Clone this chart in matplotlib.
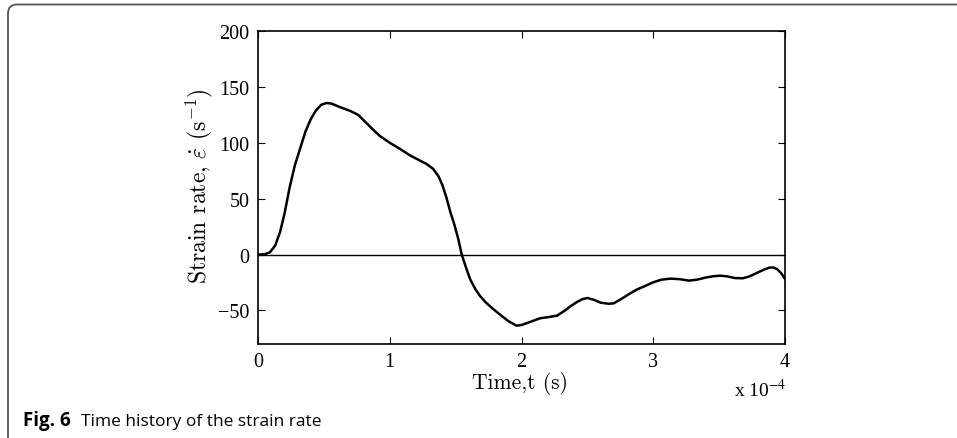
import matplotlib
matplotlib.use("Agg")
import matplotlib.pyplot as plt
from matplotlib.patches import FancyBboxPatch
from matplotlib.transforms import IdentityTransform

plt.rcParams['font.family'] = ['Liberation Serif', 'DejaVu Serif']
plt.rcParams['mathtext.fontset'] = 'stix'

# time in units of 1e-4 s, strain rate in 1/s
time_e4 = [0, 0.05, 0.09, 0.13, 0.167, 0.20, 0.24, 0.28, 0.32, 0.36, 0.40, 0.44,
           0.48, 0.52, 0.56, 0.62, 0.70, 0.76, 0.82, 0.88, 0.926, 1.0, 1.078, 1.15,
           1.23, 1.28, 1.33, 1.37, 1.40, 1.43, 1.46, 1.49, 1.52, 1.546, 1.58, 1.61,
           1.65, 1.685, 1.73, 1.785, 1.84, 1.90, 1.962, 2.0, 2.06, 2.14, 2.2, 2.27,
           2.33, 2.38, 2.42, 2.46, 2.5, 2.55, 2.60, 2.66, 2.70, 2.76, 2.82, 2.88,
           2.94, 3.0, 3.06, 3.13, 3.2, 3.27, 3.33, 3.40, 3.46, 3.51, 3.56, 3.62,
           3.68, 3.73, 3.785, 3.84, 3.88, 3.91, 3.94, 3.97, 4.0]
strain_rate = [0, 0.3, 2, 8, 20, 36, 60, 80, 95, 110, 121, 129,
               134, 135.6, 135, 132, 128.5, 125, 118, 111, 106, 100, 94.5, 89,
               84, 81, 76.6, 70, 62, 51, 38, 27, 14, 0, -12, -22,
               -31, -37, -43, -48.7, -54, -59.5, -63.6, -63, -60.5, -57, -56, -54.6,
               -50, -45.5, -42.5, -40, -38.8, -40.5, -43, -44, -43.6, -39.5, -35, -31,
               -28, -24.8, -22.5, -21.5, -22, -23.3, -22.5, -20.5, -19.3, -18.9, -19.5, -21,
               -21.2, -19.5, -16.5, -13.5, -11.7, -11.5, -13, -16.5, -21.8]

xticks = [0, 1, 2, 3, 4]
yticks = [-50, 0, 50, 100, 150, 200]

fig = plt.figure(figsize=(9.57, 4.39), dpi=100)

# outer rounded frame (only top and left edges visible)
frame = FancyBboxPatch((8, -60), 1100, 439 - 5.5 + 60,
                       boxstyle="round,pad=0,rounding_size=9",
                       transform=IdentityTransform(), fill=False,
                       edgecolor='#555555', lw=1.3)
fig.patches.append(frame)

ax = fig.add_axes([0.2696, 0.2141, 0.5507, 0.713])
ax.plot(time_e4, strain_rate, color='black', lw=1.8, solid_joinstyle='round')
ax.axhline(0, color='black', lw=1.0)

ax.set_xlim(0, 4)
ax.set_ylim(-80, 200)
ax.set_xticks(xticks)
ax.set_yticks(yticks)
ax.set_yticklabels(['\u221250', '0', '50', '100', '150', '200'])
ax.tick_params(direction='in', top=True, right=True, labelsize=14.5,
               length=5, width=0.8, pad=6)
for s in ax.spines.values():
    s.set_linewidth(1.2)

ax.set_xlabel('Time,t (s)', fontsize=15.5, family='cmr10')
ax.xaxis.set_label_coords(0.497, -0.087)
ax.set_ylabel(r'Strain rate, $\dot{\varepsilon}$ (s$^{-1}$)', fontsize=17,
              family='cmr10', math_fontfamily='cm')
ax.yaxis.set_label_coords(-0.082, 0.508)
ax.text(1.003, -0.108, r'x 10$^{-4}$', transform=ax.transAxes, ha='right', va='top',
        fontsize=14)

fig.text(23 / 957, 1 - 426 / 439, 'Fig. 6', fontsize=13.5, fontweight='bold',
         family=['Open Sans', 'DejaVu Sans'], va='baseline')
fig.text(81 / 957, 1 - 426 / 439, 'Time history of the strain rate', fontsize=12.5,
         family=['Open Sans', 'DejaVu Sans'], va='baseline')

fig.savefig('out.png', dpi=100)
